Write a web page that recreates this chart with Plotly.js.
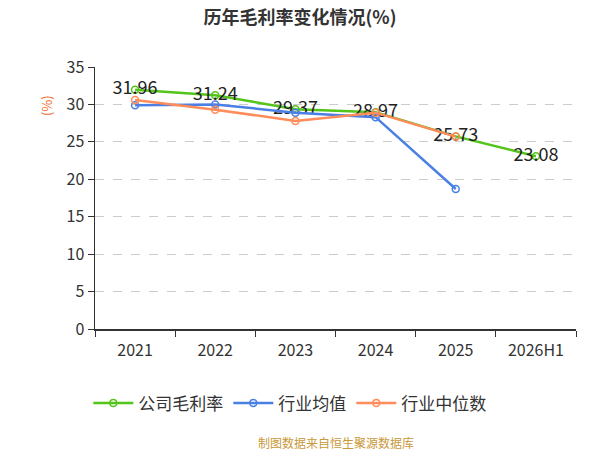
<!DOCTYPE html>
<html><head><meta charset="utf-8">
<script src="https://cdn.plot.ly/plotly-3.0.1.min.js"></script>
<style>body{margin:0;background:#fff}#c{width:600px;height:450px}</style>
</head><body><div id="c"></div>
<script>
const categories = ['2021','2022','2023','2024','2025','2026H1'];
const companyMargin = [31.96, 31.24, 29.37, 28.97, 25.73, 23.08];
const industryAvg = [29.9, 30.0, 28.9, 28.3, 18.7, null];
const industryMedian = [30.6, 29.3, 27.8, 28.9, 25.7, null];
const companyLabels = ['31.96','31.24','29.37','28.97','25.73','23.08'];

const F = '"Noto Sans CJK SC", "Noto Sans", sans-serif';
function tr(name, y, color, extra) {
  return Object.assign({
    type: 'scatter', mode: 'lines+markers', name: name,
    x: categories, y: y,
    line: {color: color, width: 2.5},
    marker: {symbol: 'circle-open', size: 7, color: color, line: {width: 1.5, color: color}},
    cliponaxis: false, connectgaps: false
  }, extra || {});
}
const data = [
  tr('公司毛利率', companyMargin, '#52c41a', {
    mode: 'lines+markers+text', text: companyLabels, textposition: 'middle center',
    textfont: {family: F, size: 18, color: '#222'}
  }),
  tr('行业均值', industryAvg, '#4a7fe4'),
  tr('行业中位数', industryMedian, '#ff8c5a')
];
const layout = {
  width: 600, height: 450,
  margin: {l: 95, r: 24, t: 67, b: 121},
  paper_bgcolor: '#fff', plot_bgcolor: '#fff',
  font: {family: F, color: '#333'},
  title: {text: '<b>历年毛利率变化情况(%)</b>', x: 0.5, xanchor: 'center', y: 0.96, yanchor: 'middle',
    font: {family: F, size: 18, color: '#333'}},
  showlegend: true,
  legend: {orientation: 'h', x: 0.405, xanchor: 'center', y: -0.215, yanchor: 'top',
    font: {family: F, size: 17, color: '#333'}, itemwidth: 40, traceorder: 'normal'},
  xaxis: {type: 'category', tickson: 'boundaries', ticks: 'outside', ticklen: 6, tickcolor: '#333',
    showline: true, linecolor: '#333', linewidth: 1.5, showgrid: false, ticklabelstandoff: 6,
    tickfont: {family: F, size: 16, color: '#333'}, range: [-0.5, 5.5]},
  yaxis: {range: [0, 35], dtick: 5, ticks: 'outside', ticklen: 6, tickcolor: '#333',
    showline: true, linecolor: '#333', linewidth: 1.5, zeroline: false,
    showgrid: true, gridcolor: '#cccccc', griddash: 'dash', gridwidth: 1,
    tickfont: {family: F, size: 16, color: '#333'}},
  annotations: [
    {text: '(%)', xref: 'paper', yref: 'paper', x: -0.125, y: 0.90, showarrow: false, textangle: -90,
      font: {family: F, size: 13, color: '#f06a2a'}},
    {text: '制图数据来自恒生聚源数据库', xref: 'paper', yref: 'paper', x: 0.5, y: -0.475, showarrow: false,
      font: {family: F, size: 12, color: '#c9993a'}}
  ]
};
Plotly.newPlot('c', data, layout, {displayModeBar: false, staticPlot: true});
</script></body></html>
